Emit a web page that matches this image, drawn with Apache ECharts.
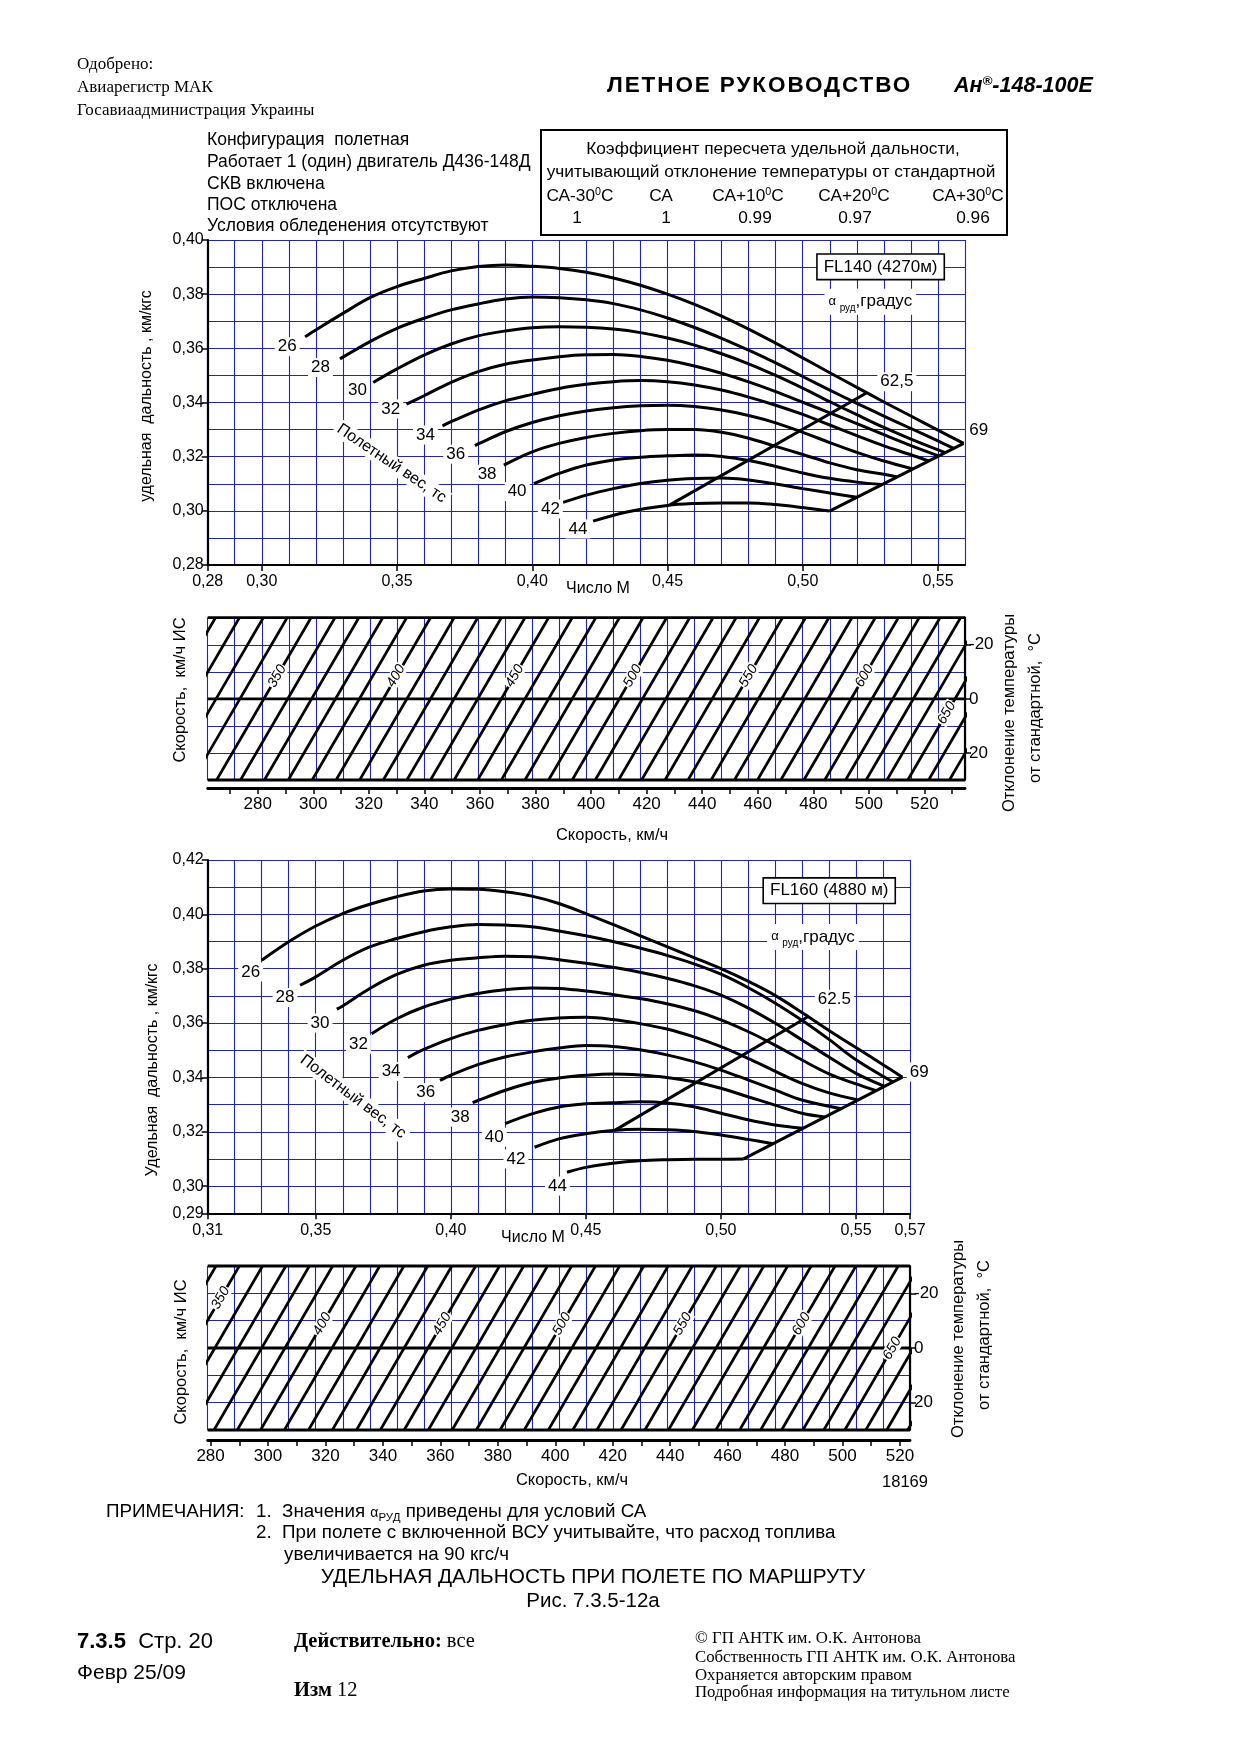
<!DOCTYPE html>
<html><head><meta charset="utf-8">
<script src="https://cdn.jsdelivr.net/npm/echarts@6/dist/echarts.min.js"></script>
<style>
body{margin:0;background:#fff;}
#page{position:relative;width:1240px;height:1755px;overflow:hidden;background:#fff;}
#chart{position:absolute;left:0;top:0;width:1240px;height:1755px;}
.t{position:absolute;white-space:nowrap;color:#000;line-height:1;}
.c{transform:translateX(-50%);}
.serif{font-family:'Liberation Serif','DejaVu Serif',serif;}
.sans{font-family:'Liberation Sans',Arial,sans-serif;}
sup{font-size:62%;vertical-align:0.55em;line-height:0;}
#coef{position:absolute;left:540px;top:129px;width:464px;height:103px;border:2px solid #000;}
</style></head>
<body><div id="page">
<div id="chart"></div>

<div class="t serif" style="left:77px;top:55px;font-size:17px">Одобрено:</div>
<div class="t serif" style="left:77px;top:78px;font-size:17px">Авиарегистр МАК</div>
<div class="t serif" style="left:77px;top:101px;font-size:17px">Госавиаадминистрация Украины</div>
<div class="t sans" style="left:607px;top:74px;font-size:22.5px;font-weight:bold;letter-spacing:1.9px">ЛЕТНОЕ РУКОВОДСТВО</div>
<div class="t sans" style="left:954px;top:75px;font-size:21.5px;font-weight:bold;font-style:italic">Ан<sup>®</sup>-148-100Е</div>

<div class="t sans" style="left:207px;top:131px;font-size:17.5px">Конфигурация&nbsp; полетная</div>
<div class="t sans" style="left:207px;top:153px;font-size:17.5px">Работает 1 (один) двигатель Д436-148Д</div>
<div class="t sans" style="left:207px;top:175px;font-size:17.5px">СКВ включена</div>
<div class="t sans" style="left:207px;top:196px;font-size:17.5px">ПОС отключена</div>
<div class="t sans" style="left:207px;top:217px;font-size:17.5px">Условия обледенения отсутствуют</div>

<div id="coef"></div>
<div class="t sans c" style="left:773px;top:140px;font-size:17.3px">Коэффициент пересчета удельной дальности,</div>
<div class="t sans c" style="left:771px;top:163px;font-size:17.3px">учитывающий отклонение температуры от стандартной</div>
<div class="t sans c" style="left:580px;top:187px;font-size:17.3px">СА-30<sup>0</sup>С</div>
<div class="t sans c" style="left:661px;top:187px;font-size:17.3px">СА</div>
<div class="t sans c" style="left:748px;top:187px;font-size:17.3px">СА+10<sup>0</sup>С</div>
<div class="t sans c" style="left:854px;top:187px;font-size:17.3px">СА+20<sup>0</sup>С</div>
<div class="t sans c" style="left:968px;top:187px;font-size:17.3px">СА+30<sup>0</sup>С</div>
<div class="t sans c" style="left:577px;top:209px;font-size:17.3px">1</div>
<div class="t sans c" style="left:666px;top:209px;font-size:17.3px">1</div>
<div class="t sans c" style="left:755px;top:209px;font-size:17.3px">0.99</div>
<div class="t sans c" style="left:855px;top:209px;font-size:17.3px">0.97</div>
<div class="t sans c" style="left:973px;top:209px;font-size:17.3px">0.96</div>

<div class="t sans" style="left:106px;top:1502px;font-size:18.8px">ПРИМЕЧАНИЯ:</div>
<div class="t sans" style="left:256px;top:1502px;font-size:18.8px">1.&nbsp; Значения <span style="font-size:14px">α<sub style="font-size:11.5px">РУД</sub></span> приведены для условий СА</div>
<div class="t sans" style="left:256px;top:1523px;font-size:18.8px">2.&nbsp; При полете с включенной ВСУ учитывайте, что расход топлива</div>
<div class="t sans" style="left:284px;top:1545px;font-size:18.8px">увеличивается на 90 кгс/ч</div>
<div class="t sans c" style="left:593px;top:1566px;font-size:20.8px">УДЕЛЬНАЯ ДАЛЬНОСТЬ ПРИ ПОЛЕТЕ ПО МАРШРУТУ</div>
<div class="t sans c" style="left:593px;top:1590px;font-size:20.5px">Рис. 7.3.5-12а</div>

<div class="t sans" style="left:77px;top:1630px;font-size:22px"><b>7.3.5</b>&nbsp; Стр. 20</div>
<div class="t sans" style="left:77px;top:1661px;font-size:21px">Февр 25/09</div>
<div class="t serif" style="left:294px;top:1630px;font-size:20.5px"><b>Действительно:</b> все</div>
<div class="t serif" style="left:294px;top:1679px;font-size:20.5px"><b>Изм</b> 12</div>
<div class="t serif" style="left:695px;top:1630px;font-size:16.8px">© ГП АНТК им. О.К. Антонова</div>
<div class="t serif" style="left:695px;top:1649px;font-size:16.8px">Собственность ГП АНТК им. О.К. Антонова</div>
<div class="t serif" style="left:695px;top:1667px;font-size:16.8px">Охраняется авторским правом</div>
<div class="t serif" style="left:695px;top:1684px;font-size:16.8px">Подробная информация на титульном листе</div>
</div>

<script>
// ---------------- DATA ----------------
// FL140 (4270 m): specific range [Mach, km/kgf] per flight weight (t)
const weights = [26, 28, 30, 32, 34, 36, 38, 40, 42, 44];
const fl140W26 = [[0.316,0.3643],[0.32,0.3668],[0.33,0.3729],[0.34,0.3787],[0.35,0.3828],[0.36,0.3858],[0.37,0.3886],[0.38,0.3902],[0.39,0.3908],[0.40,0.3903],[0.41,0.3895],[0.42,0.3881],[0.43,0.3860],[0.44,0.3833],[0.45,0.3800],[0.46,0.3762],[0.47,0.3719],[0.48,0.3671],[0.49,0.3619],[0.50,0.3565],[0.51,0.3510],[0.52,0.3456],[0.53,0.3402],[0.54,0.3350],[0.55,0.3298],[0.5595,0.3249]];
const fl140W28 = [[0.3289,0.3561],[0.34,0.3625],[0.35,0.3674],[0.36,0.3711],[0.37,0.3742],[0.38,0.3764],[0.39,0.3782],[0.40,0.3790],[0.41,0.3787],[0.42,0.3779],[0.43,0.3765],[0.44,0.3742],[0.45,0.3712],[0.46,0.3677],[0.47,0.3637],[0.48,0.3593],[0.49,0.3546],[0.50,0.3496],[0.51,0.3446],[0.52,0.3397],[0.53,0.3350],[0.54,0.3304],[0.55,0.3258],[0.5558,0.3231]];
const fl140W30 = [[0.3412,0.3474],[0.35,0.3524],[0.36,0.3575],[0.37,0.3616],[0.38,0.3646],[0.39,0.3664],[0.40,0.3676],[0.41,0.3680],[0.42,0.3678],[0.43,0.3671],[0.44,0.3658],[0.45,0.3638],[0.46,0.3612],[0.47,0.3580],[0.48,0.3543],[0.49,0.3500],[0.50,0.3453],[0.51,0.3403],[0.52,0.3355],[0.53,0.3308],[0.54,0.3265],[0.5527,0.3215]];
const fl140W32 = [[0.3535,0.3394],[0.36,0.3425],[0.37,0.3474],[0.38,0.3514],[0.39,0.3541],[0.40,0.3557],[0.41,0.3569],[0.42,0.3576],[0.43,0.3577],[0.44,0.3570],[0.45,0.3556],[0.46,0.3535],[0.47,0.3508],[0.48,0.3476],[0.49,0.3440],[0.50,0.3401],[0.51,0.3362],[0.52,0.3322],[0.53,0.3281],[0.54,0.3241],[0.5502,0.3203]];
const fl140W34 = [[0.3668,0.3314],[0.37,0.3329],[0.38,0.3372],[0.39,0.3406],[0.40,0.3430],[0.41,0.3452],[0.42,0.3467],[0.43,0.3477],[0.44,0.3481],[0.45,0.3477],[0.46,0.3465],[0.47,0.3446],[0.48,0.3420],[0.49,0.3390],[0.50,0.3356],[0.51,0.3317],[0.52,0.3278],[0.53,0.3240],[0.54,0.3207],[0.5465,0.3184]];
const fl140W36 = [[0.3788,0.3241],[0.38,0.3247],[0.39,0.3292],[0.40,0.3326],[0.41,0.3351],[0.42,0.3369],[0.43,0.3381],[0.44,0.3388],[0.45,0.3390],[0.46,0.3385],[0.47,0.3372],[0.48,0.3352],[0.49,0.3325],[0.50,0.3290],[0.51,0.3252],[0.52,0.3216],[0.53,0.3184],[0.5407,0.3155]];
const fl140W38 = [[0.3895,0.3169],[0.40,0.3218],[0.41,0.3249],[0.42,0.3271],[0.43,0.3286],[0.44,0.3296],[0.45,0.3300],[0.46,0.3300],[0.47,0.3290],[0.48,0.3268],[0.49,0.3238],[0.50,0.3208],[0.51,0.3177],[0.52,0.3152],[0.53,0.3135],[0.5348,0.3125]];
const fl140W40 = [[0.4006,0.3100],[0.41,0.3138],[0.42,0.3169],[0.43,0.3188],[0.44,0.3198],[0.45,0.3203],[0.46,0.3206],[0.47,0.3201],[0.48,0.3186],[0.49,0.3164],[0.50,0.3140],[0.51,0.3120],[0.52,0.3106],[0.5293,0.3097]];
const fl140W42 = [[0.4114,0.3031],[0.42,0.3058],[0.43,0.3082],[0.44,0.3101],[0.45,0.3113],[0.46,0.3119],[0.47,0.3121],[0.48,0.3114],[0.49,0.3099],[0.50,0.3082],[0.51,0.3066],[0.52,0.3050]];
const fl140W44 = [[0.4225,0.2962],[0.435,0.2996],[0.45,0.3020],[0.46,0.3027],[0.47,0.3029],[0.48,0.3029],[0.49,0.3023],[0.50,0.3012],[0.5099,0.2999]];
const fl140Alpha625 = [[0.4509,0.3022],[0.5237,0.3436]];
const fl140Alpha69 = [[0.5099,0.2999],[0.5595,0.3249]];

// FL160 (4880 m)
const fl160W26 = [[0.33,0.3831],[0.34,0.3899],[0.35,0.3957],[0.36,0.4003],[0.37,0.4037],[0.38,0.4065],[0.39,0.4086],[0.40,0.4093],[0.41,0.4092],[0.42,0.4083],[0.43,0.4067],[0.44,0.4040],[0.45,0.4003],[0.46,0.3963],[0.47,0.3922],[0.48,0.3881],[0.49,0.3841],[0.50,0.3800],[0.51,0.3754],[0.52,0.3702],[0.53,0.3639],[0.54,0.3573],[0.55,0.3510],[0.56,0.3447],[0.5672,0.3401]];
const fl160W28 = [[0.3442,0.3739],[0.35,0.3770],[0.36,0.3831],[0.37,0.3880],[0.38,0.3911],[0.39,0.3936],[0.40,0.3954],[0.41,0.3963],[0.42,0.3961],[0.43,0.3954],[0.44,0.3939],[0.45,0.3921],[0.46,0.3900],[0.47,0.3876],[0.48,0.3849],[0.49,0.3818],[0.50,0.3780],[0.51,0.3731],[0.52,0.3674],[0.53,0.3610],[0.54,0.3540],[0.55,0.3465],[0.5637,0.3383]];
const fl160W30 = [[0.3578,0.3651],[0.36,0.3663],[0.37,0.3727],[0.38,0.3779],[0.39,0.3813],[0.40,0.3831],[0.41,0.3840],[0.42,0.3846],[0.43,0.3844],[0.44,0.3833],[0.45,0.3820],[0.46,0.3805],[0.47,0.3787],[0.48,0.3765],[0.49,0.3738],[0.50,0.3703],[0.51,0.3656],[0.52,0.3600],[0.53,0.3538],[0.54,0.3475],[0.55,0.3415],[0.5606,0.3367]];
const fl160W32 = [[0.3707,0.3561],[0.38,0.3616],[0.39,0.3659],[0.40,0.3688],[0.41,0.3709],[0.42,0.3723],[0.43,0.3729],[0.44,0.3727],[0.45,0.3718],[0.46,0.3705],[0.47,0.3690],[0.48,0.3671],[0.49,0.3646],[0.50,0.3612],[0.51,0.3569],[0.52,0.3519],[0.53,0.3464],[0.54,0.3413],[0.55,0.3376],[0.5575,0.3351]];
const fl160W34 = [[0.3841,0.3473],[0.39,0.3503],[0.40,0.3543],[0.41,0.3573],[0.42,0.3594],[0.43,0.3610],[0.44,0.3619],[0.45,0.3621],[0.46,0.3613],[0.47,0.3598],[0.48,0.3578],[0.49,0.3549],[0.50,0.3513],[0.51,0.3470],[0.52,0.3423],[0.53,0.3378],[0.54,0.3343],[0.5507,0.3317]];
const fl160W36 = [[0.396,0.3389],[0.40,0.3408],[0.41,0.3447],[0.42,0.3475],[0.43,0.3494],[0.44,0.3508],[0.45,0.3517],[0.46,0.3514],[0.47,0.3502],[0.48,0.3483],[0.49,0.3458],[0.50,0.3427],[0.51,0.3391],[0.52,0.3354],[0.53,0.3317],[0.5446,0.3285]];
const fl160W38 = [[0.4081,0.3307],[0.41,0.3315],[0.42,0.3352],[0.43,0.3381],[0.44,0.3398],[0.45,0.3408],[0.46,0.3413],[0.47,0.3409],[0.48,0.3400],[0.49,0.3384],[0.50,0.3360],[0.51,0.3329],[0.52,0.3298],[0.53,0.3268],[0.5384,0.3254]];
const fl160W40 = [[0.4201,0.3230],[0.43,0.3266],[0.44,0.3291],[0.45,0.3303],[0.46,0.3307],[0.47,0.3310],[0.48,0.3306],[0.49,0.3292],[0.50,0.3268],[0.51,0.3244],[0.52,0.3225],[0.5304,0.3213]];
const fl160W42 = [[0.431,0.3143],[0.44,0.3174],[0.45,0.3193],[0.46,0.3205],[0.47,0.3209],[0.48,0.3207],[0.49,0.3201],[0.50,0.3188],[0.51,0.3172],[0.5193,0.3156]];
const fl160W44 = [[0.443,0.3051],[0.45,0.3069],[0.46,0.3084],[0.47,0.3093],[0.48,0.3097],[0.49,0.3099],[0.50,0.3099],[0.5084,0.3100]];
const fl160Alpha625 = [[0.4607,0.3205],[0.5322,0.3623]];
const fl160Alpha69 = [[0.5084,0.3100],[0.5672,0.3401]];

// Tick labels
const fl140MachLabels = [0.28, 0.30, 0.35, 0.40, 0.45, 0.50, 0.55];
const fl140RangeLabels = [0.28, 0.30, 0.32, 0.34, 0.36, 0.38, 0.40];
const fl160MachLabels = [0.31, 0.35, 0.40, 0.45, 0.50, 0.55, 0.57];
const fl160RangeLabels = [0.29, 0.30, 0.32, 0.34, 0.36, 0.38, 0.40, 0.42];
const tempLabels = [-20, 0, 20];
const fl140SpeedTicks = [270,280,290,300,310,320,330,340,350,360,370,380,390,400,410,420,430,440,450,460,470,480,490,500,510,520,530];
const fl160SpeedTicks = [280,290,300,310,320,330,340,350,360,370,380,390,400,410,420,430,440,450,460,470,480,490,500,510,520];
const speedLabels = [280,300,320,340,360,380,400,420,440,460,480,500,520];

// Speed (ИС) lines: value at temperature deviation -30 (top) and +30 (bottom), read on the km/h axis
const fl140SpeedLines = [310,320,330,340,350,360,370,380,390,400,410,420,430,440,450,460,470,480,490,500,510,520,530,540,550,560,570,580,590,600,610,620,630,640,650,660,670];
const fl140AtMinus30 = [264.8,273.4,282.0,290.6,299.2,307.8,316.4,325.0,333.6,342.2,350.7,359.2,367.7,376.2,384.7,393.2,401.7,410.2,418.7,427.2,435.5,443.9,452.2,460.6,468.9,477.2,485.6,493.9,502.3,510.6,518.1,525.6,533.0,540.5,548.0,555.5,563.0];
const fl140AtPlus30 = [230.8,239.4,248.0,256.6,265.2,273.8,282.4,291.0,299.6,308.2,316.7,325.2,333.7,342.2,350.7,359.2,367.7,376.2,384.7,393.2,401.5,409.9,418.2,426.6,434.9,443.2,451.6,459.9,468.3,476.6,484.1,491.6,499.0,506.5,514.0,521.5,529.0];
const fl160SpeedLines = [340,350,360,370,380,390,400,410,420,430,440,450,460,470,480,490,500,510,520,530,540,550,560,570,580,590,600,610,620,630,640,650,660,670,680];
const fl160AtMinus30 = [281.9,290.0,298.1,306.2,314.4,322.5,330.6,338.9,347.3,355.6,364.0,372.3,380.6,389.0,397.3,405.7,414.0,422.4,430.8,439.3,447.7,456.1,464.4,472.6,480.9,489.1,497.4,504.7,512.0,519.4,526.7,534.0,541.3,548.6,555.9];
const fl160AtPlus30 = [248.7,256.8,264.9,273.0,281.2,289.3,297.4,305.7,314.1,322.4,330.8,339.1,347.4,355.8,364.1,372.5,380.8,389.2,397.6,406.1,414.5,422.9,431.2,439.4,447.7,455.9,464.2,471.5,478.8,486.2,493.5,500.8,508.1,515.4,522.7];
const speedLineLabels = [350, 400, 450, 500, 550, 600, 650];

// Annotation anchor points (data coordinates)
const fl140WeightLabelAt = [[0.3094,0.3606],[0.3217,0.3529],[0.3354,0.3446],[0.3477,0.3376],[0.3605,0.3280],[0.3717,0.3209],[0.3833,0.3135],[0.3944,0.3071],[0.4067,0.3007],[0.4169,0.2933]];
const fl160WeightLabelAt = [[0.3259,0.3788],[0.3386,0.3694],[0.3516,0.3600],[0.3658,0.3522],[0.3779,0.3422],[0.3907,0.3344],[0.4035,0.3254],[0.4161,0.3180],[0.4241,0.3100],[0.4395,0.3000]];
const fl140SpeedLabelAt = [[287.0,-8.4],[329.8,-8.5],[372.5,-8.5],[415.0,-8.5],[456.7,-8.5],[498.4,-8.5],[528.0,5.2]];
const fl160SpeedLabelAt = [[283.5,-18.3],[318.9,-8.8],[360.6,-8.8],[402.3,-8.8],[444.4,-8.8],[485.7,-8.8],[517.3,0.2]];

// ---------------- CHART ----------------
const BLUE = '#2424b4';
const FONT = 'Liberation Sans';
const f2 = v => (Math.round(v * 100) / 100).toFixed(2).replace('.', ',');
const HIDE = {show: false};

function gridAxisX(grid, min, max, interval) {
  return {type: 'value', gridIndex: grid, min: min, max: max, interval: interval, position: 'bottom', z: 0,
    axisLine: HIDE, axisTick: HIDE, axisLabel: HIDE,
    splitLine: {show: true, lineStyle: {color: BLUE, width: 1.1}}};
}
function gridAxisY(grid, min, max, interval, inverse) {
  return {type: 'value', gridIndex: grid, min: min, max: max, interval: interval, inverse: !!inverse, position: 'left', z: 0,
    axisLine: HIDE, axisTick: HIDE, axisLabel: HIDE,
    splitLine: {show: true, lineStyle: {color: BLUE, width: 1.1}}};
}
function machAxis(grid, min, max, labels) {
  return {
    type: 'value', gridIndex: grid, min: min, max: max, position: 'bottom', z: 3,
    axisLine: {show: true, onZero: false, lineStyle: {color: '#000', width: 2.2}},
    axisTick: {show: true, customValues: labels, length: 6, lineStyle: {color: '#000', width: 1.5}},
    axisLabel: {show: true, customValues: labels, formatter: f2, color: '#000', fontSize: 16, fontFamily: FONT, margin: 9},
    splitLine: HIDE
  };
}
function rangeAxis(grid, min, max, labels) {
  return {
    type: 'value', gridIndex: grid, min: min, max: max, position: 'left', z: 3,
    axisLine: {show: true, onZero: false, lineStyle: {color: '#000', width: 2.2}},
    axisTick: {show: true, customValues: labels, length: 6, lineStyle: {color: '#000', width: 1.5}},
    axisLabel: {customValues: labels, formatter: f2, color: '#000', fontSize: 16, fontFamily: FONT, margin: 4},
    splitLine: HIDE
  };
}
function speedAxis(grid, min, max, ticks, offset) {
  return {
    type: 'value', gridIndex: grid, min: min, max: max, position: 'bottom', offset: offset, z: 3,
    axisLine: {show: true, onZero: false, lineStyle: {color: '#000', width: 2.8}},
    axisTick: {show: true, customValues: ticks, length: 6, lineStyle: {color: '#000', width: 1.5}},
    axisLabel: {customValues: speedLabels, color: '#000', fontSize: 17, fontFamily: FONT, margin: 8},
    splitLine: HIDE
  };
}
function tempAxis(grid) {
  return {
    type: 'value', gridIndex: grid, min: -30, max: 30, inverse: true, position: 'right', z: 3,
    axisLine: {show: true, onZero: false, lineStyle: {color: '#000', width: 2.2}},
    axisTick: {show: true, customValues: tempLabels, length: 6, lineStyle: {color: '#000', width: 1.5}},
    axisLabel: {customValues: tempLabels, color: '#000', fontSize: 17, fontFamily: FONT, margin: 4},
    splitLine: HIDE
  };
}

const series = [];
function curve(data, xi, yi, smooth) {
  series.push({type: 'line', xAxisIndex: xi, yAxisIndex: yi, data: data, smooth: smooth, symbol: 'none',
    silent: true, z: 5, lineStyle: {color: '#000', width: 3}});
}
[fl140W26, fl140W28, fl140W30, fl140W32, fl140W34, fl140W36, fl140W38, fl140W40, fl140W42, fl140W44].forEach(d => curve(d, 0, 0, 0.35));
curve(fl140Alpha625, 0, 0, false); curve(fl140Alpha69, 0, 0, false);
[fl160W26, fl160W28, fl160W30, fl160W32, fl160W34, fl160W36, fl160W38, fl160W40, fl160W42, fl160W44].forEach(d => curve(d, 2, 2, 0.35));
curve(fl160Alpha625, 2, 2, false); curve(fl160Alpha69, 2, 2, false);

function hatch(lines, top, bottom, xi, yi) {
  lines.forEach((v, i) => series.push({type: 'line', xAxisIndex: xi, yAxisIndex: yi, name: String(v),
    data: [[top[i], -30], [bottom[i], 30]], symbol: 'none', silent: true, clip: true, z: 4,
    lineStyle: {color: '#000', width: 2.7}}));
}
hatch(fl140SpeedLines, fl140AtMinus30, fl140AtPlus30, 1, 1);
hatch(fl160SpeedLines, fl160AtMinus30, fl160AtPlus30, 3, 3);

function frame(xi, yi, x0, x1) {
  [-30, 0, 30].forEach(t => series.push({type: 'line', xAxisIndex: xi, yAxisIndex: yi, data: [[x0, t], [x1, t]],
    symbol: 'none', silent: true, clip: false, z: 6, lineStyle: {color: '#000', width: 2.8}}));
}
frame(1, 1, 262, 534.6);
frame(3, 3, 279, 523.5);

function gtext(x, y, text, rot, size) {
  return {type: 'text', x: x, y: y, rotation: rot || 0, silent: true, z: 50,
    style: {text: text, fill: '#000', font: (size || 16) + 'px "' + FONT + '"', align: 'center', verticalAlign: 'middle'}};
}
const R = Math.PI / 2;

const option = {
  animation: false,
  textStyle: {fontFamily: FONT},
  grid: [
    {left: 207.7, top: 240, width: 757.3, height: 325, containLabel: false, outerBoundsMode: 'none'},
    {left: 207.7, top: 617.7, width: 757.3, height: 162.3, containLabel: false, outerBoundsMode: 'none'},
    {left: 207.7, top: 860, width: 702.3, height: 353.3, containLabel: false, outerBoundsMode: 'none'},
    {left: 207.7, top: 1266, width: 702.3, height: 164, containLabel: false, outerBoundsMode: 'none'}
  ],
  xAxis: [
    machAxis(0, 0.28, 0.56, fl140MachLabels),          // 0
    speedAxis(1, 262, 534.6, fl140SpeedTicks, 8),       // 1
    machAxis(2, 0.31, 0.57, fl160MachLabels),          // 2
    speedAxis(3, 279, 523.5, fl160SpeedTicks, 10),      // 3
    gridAxisX(0, 0.28, 0.56, 0.01),                    // 4
    gridAxisX(1, 0.28, 0.56, 0.01),                    // 5
    gridAxisX(2, 0.31, 0.57, 0.01),                    // 6
    gridAxisX(3, 0.31, 0.57, 0.01)                     // 7
  ],
  yAxis: [
    rangeAxis(0, 0.28, 0.40, fl140RangeLabels),        // 0
    tempAxis(1),                                       // 1
    rangeAxis(2, 0.29, 0.42, fl160RangeLabels),        // 2
    tempAxis(3),                                       // 3
    gridAxisY(0, 0.28, 0.40, 0.01),                    // 4
    gridAxisY(1, -30, 30, 10, true),                   // 5
    gridAxisY(2, 0.29, 0.42, 0.01),                    // 6
    gridAxisY(3, -30, 30, 10, true)                    // 7
  ],
  series: series,
  graphic: {elements: [
    gtext(147, 396, 'удельная  дальность , км/кгс', R, 16),
    gtext(598, 589, 'Число М', 0, 16),
    gtext(180, 690, 'Скорость,  км/ч ИС', R, 16.5),
    gtext(1009, 713, 'Отклонение температуры', R, 16.5),
    gtext(1035, 708, 'от стандартной,  °С', R, 16.5),
    gtext(612, 835, 'Скорость, км/ч', 0, 16.5),
    gtext(153, 1070, 'Удельная  дальность , км/кгс', R, 16),
    gtext(533, 1238, 'Число М', 0, 16),
    gtext(181, 1352, 'Скорость,  км/ч ИС', R, 16.5),
    gtext(958, 1339, 'Отклонение температуры', R, 16.5),
    gtext(984, 1335, 'от стандартной,  °С', R, 16.5),
    gtext(572, 1480, 'Скорость, км/ч', 0, 16.5),
    gtext(905, 1482, '18169', 0, 16.5)
  ]}
};
const chart = echarts.init(document.getElementById('chart'), null, {renderer: 'canvas', width: 1240, height: 1755});
chart.setOption(option);

// ---------- in-chart annotations, placed through the axes' own scales ----------
const DEG = Math.PI / 180;
const boxStyle = {backgroundColor: '#fff', borderColor: '#000', borderWidth: 1.6, padding: [4, 6, 3, 6]};
const alphaRich = {al: {fontSize: 13, fontFamily: FONT, fill: '#000', lineHeight: 22},
                   sb: {fontSize: 10, fontFamily: FONT, fill: '#000', lineHeight: 22, verticalAlign: 'bottom', padding: [8, 0, 0, 0]},
                   gr: {fontSize: 17, fontFamily: FONT, fill: '#000', lineHeight: 22}};
const alphaText = '{al|α }{sb|руд}{gr|,градус}';
const notes = [];
function note(xi, yi, pos, text, opt) {
  opt = opt || {};
  const p = chart.convertToPixel({xAxisIndex: xi, yAxisIndex: yi}, pos);
  const style = Object.assign({text: text, fill: '#000', align: 'center', verticalAlign: 'middle',
    font: (opt.italic ? 'italic ' : '') + (opt.size || 17) + 'px "' + FONT + '"',
    backgroundColor: '#fff', padding: opt.padding || [1, 3]}, opt.style || {});
  notes.push({type: 'text', x: p[0], y: p[1], rotation: (opt.rot || 0) * DEG, silent: true, z: 60, style: style});
}
weights.forEach((w, i) => note(0, 0, fl140WeightLabelAt[i], String(w)));
weights.forEach((w, i) => note(2, 2, fl160WeightLabelAt[i], String(w)));
note(0, 0, [0.348, 0.3175], 'Полетный вес, тс', {rot: -34, size: 16});
note(2, 2, [0.3638, 0.3329], 'Полетный вес, тс', {rot: -37, size: 16});
note(0, 0, [0.5348, 0.3477], '62,5');
note(2, 2, [0.5420, 0.3688], '62.5');
note(0, 0, [0.5651, 0.3298], '69');
note(2, 2, [0.5734, 0.3420], '69');
note(0, 0, [0.5250, 0.3772], alphaText, {padding: [2, 4], style: {rich: alphaRich}});
note(2, 2, [0.5341, 0.3917], alphaText, {padding: [2, 4], style: {rich: alphaRich}});
note(0, 0, [0.5288, 0.3901], 'FL140 (4270м)', {style: boxStyle});
note(2, 2, [0.5401, 0.4087], 'FL160 (4880 м)', {style: boxStyle});
speedLineLabels.forEach((v, i) => note(1, 1, fl140SpeedLabelAt[i], String(v), {rot: 60, size: 14, italic: true, padding: [0, 1]}));
speedLineLabels.forEach((v, i) => note(3, 3, fl160SpeedLabelAt[i], String(v), {rot: 60, size: 14, italic: true, padding: [0, 1]}));
chart.setOption({graphic: {elements: option.graphic.elements.concat(notes)}}, {replaceMerge: ['graphic']});
</script>
</body></html>
